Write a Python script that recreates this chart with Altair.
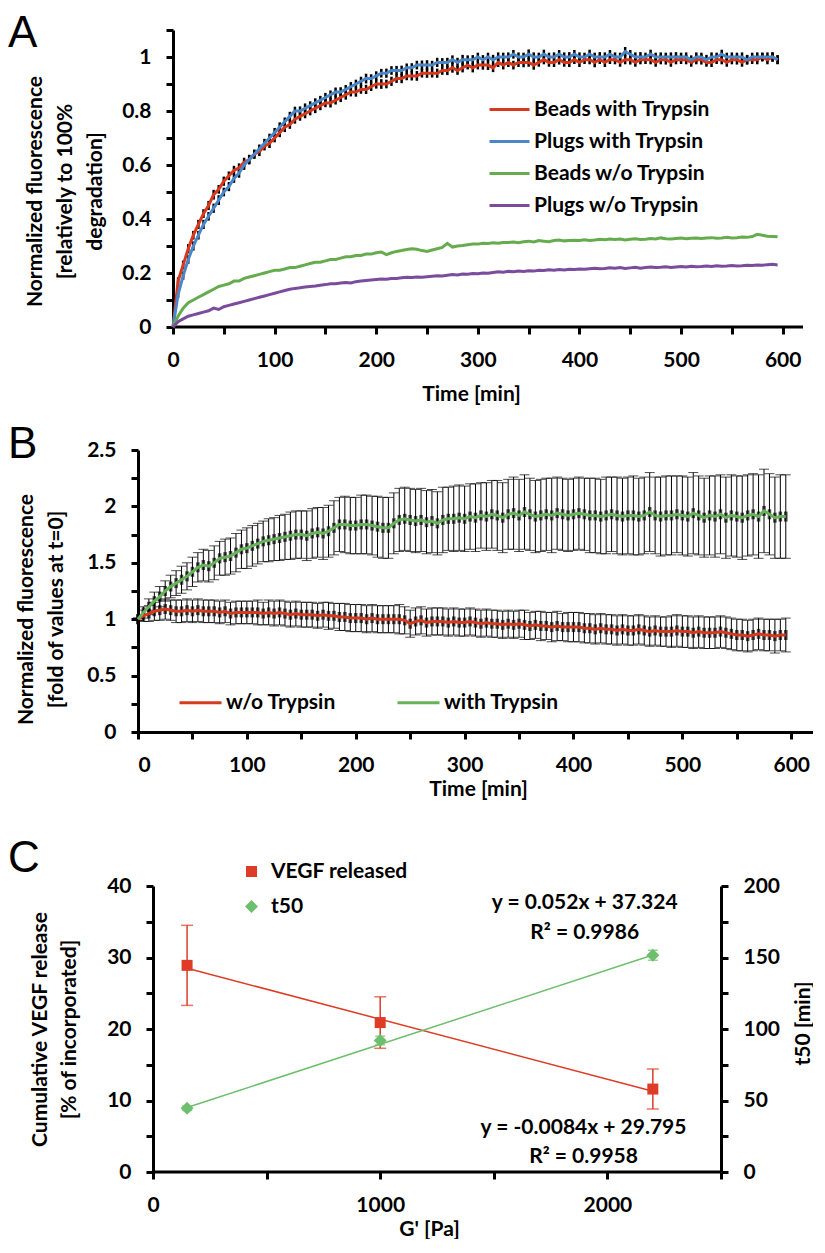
import altair as alt
import pandas as pd

# ---------------- data ----------------
TIME = list(range(0, 600, 5))

A_SERIES = ["Beads with Trypsin", "Plugs with Trypsin", "Beads w/o Trypsin", "Plugs w/o Trypsin"]
A_COLORS = ["#D8391C", "#4A87C8", "#66AC4E", "#7B4C9E"]

A_BEADS_TRYP = [
    0.00, 0.17, 0.23, 0.29, 0.34, 0.38, 0.42, 0.45, 0.49, 0.51,
    0.54, 0.56, 0.58, 0.59, 0.61, 0.62, 0.64, 0.65, 0.67, 0.68,
    0.70, 0.72, 0.74, 0.75, 0.77, 0.78, 0.79, 0.80, 0.81, 0.82,
    0.83, 0.83, 0.84, 0.85, 0.86, 0.87, 0.87, 0.88, 0.88, 0.89,
    0.90, 0.90, 0.90, 0.91, 0.92, 0.92, 0.93, 0.93, 0.93, 0.94,
    0.94, 0.94, 0.94, 0.95, 0.95, 0.96, 0.95, 0.96, 0.97, 0.96,
    0.97, 0.97, 0.97, 0.96, 0.98, 0.97, 0.98, 0.97, 0.98, 0.98,
    0.98, 0.97, 0.98, 0.99, 0.98, 0.98, 0.99, 0.98, 0.98, 0.99,
    0.98, 0.99, 0.99, 0.98, 0.99, 0.98, 0.99, 0.99, 0.98, 0.99,
    0.99, 0.98, 0.99, 0.99, 0.99, 0.98, 0.99, 0.99, 0.98, 0.99,
    0.99, 0.99, 0.98, 0.99, 0.99, 0.98, 0.98, 0.99, 0.99, 0.98,
    0.99, 0.99, 0.98, 0.99, 0.99, 0.99, 1.00, 0.99, 1.00, 0.99,
]
A_PLUGS_TRYP = [
    0.00, 0.12, 0.19, 0.25, 0.30, 0.34, 0.38, 0.41, 0.44, 0.47,
    0.50, 0.52, 0.55, 0.57, 0.60, 0.62, 0.64, 0.66, 0.68, 0.70,
    0.72, 0.74, 0.76, 0.78, 0.80, 0.80, 0.81, 0.82, 0.83, 0.84,
    0.85, 0.86, 0.87, 0.87, 0.88, 0.89, 0.90, 0.91, 0.92, 0.92,
    0.93, 0.94, 0.94, 0.95, 0.95, 0.95, 0.96, 0.96, 0.97, 0.97,
    0.97, 0.97, 0.98, 0.98, 0.98, 0.99, 0.98, 0.99, 0.99, 0.99,
    1.00, 0.99, 1.00, 0.99, 1.00, 1.00, 1.00, 1.01, 1.00, 1.00,
    1.01, 1.00, 1.00, 1.01, 1.00, 1.00, 1.01, 1.00, 1.00, 1.01,
    1.00, 1.00, 1.01, 1.00, 1.00, 1.00, 1.01, 1.00, 1.00, 1.02,
    1.01, 1.00, 1.00, 1.00, 1.01, 1.00, 1.00, 1.00, 1.00, 1.00,
    1.00, 1.00, 0.99, 1.00, 1.00, 0.99, 1.00, 1.00, 1.01, 1.00,
    1.00, 1.00, 1.00, 0.99, 1.00, 1.00, 1.00, 1.00, 1.00, 0.99,
]
A_BEADS_NO = [
    0.00, 0.04, 0.07, 0.09, 0.10, 0.11, 0.12, 0.13, 0.14, 0.15,
    0.155, 0.16, 0.17, 0.17, 0.18, 0.185, 0.19, 0.195, 0.20, 0.205,
    0.21, 0.21, 0.215, 0.22, 0.22, 0.225, 0.23, 0.235, 0.24, 0.24,
    0.245, 0.25, 0.25, 0.255, 0.26, 0.26, 0.265, 0.265, 0.27, 0.27,
    0.275, 0.278, 0.268, 0.275, 0.28, 0.283, 0.287, 0.29, 0.288, 0.283,
    0.28, 0.285, 0.29, 0.295, 0.31, 0.296, 0.30, 0.302, 0.305, 0.307,
    0.307, 0.31, 0.309, 0.312, 0.31, 0.313, 0.313, 0.315, 0.312, 0.316,
    0.318, 0.315, 0.32, 0.318, 0.316, 0.32, 0.322, 0.319, 0.32, 0.321,
    0.32, 0.323, 0.32, 0.322, 0.325, 0.323, 0.326, 0.324, 0.326, 0.322,
    0.325, 0.327, 0.324, 0.325, 0.328, 0.326, 0.33, 0.327, 0.326, 0.328,
    0.33, 0.327, 0.329, 0.33, 0.328, 0.33, 0.331, 0.329, 0.33, 0.332,
    0.33, 0.331, 0.333, 0.332, 0.335, 0.343, 0.34, 0.336, 0.335, 0.334,
]
A_PLUGS_NO = [
    0.00, 0.02, 0.03, 0.04, 0.045, 0.05, 0.055, 0.06, 0.07, 0.065,
    0.075, 0.08, 0.085, 0.09, 0.095, 0.10, 0.105, 0.11, 0.115, 0.12,
    0.125, 0.13, 0.135, 0.14, 0.143, 0.145, 0.148, 0.15, 0.152, 0.155,
    0.157, 0.16, 0.16, 0.163, 0.165, 0.163, 0.168, 0.17, 0.172, 0.174,
    0.176, 0.178, 0.177, 0.18, 0.18, 0.182, 0.184, 0.183, 0.185, 0.184,
    0.186, 0.188, 0.19, 0.189, 0.192, 0.194, 0.193, 0.196, 0.195, 0.198,
    0.197, 0.20, 0.199, 0.202, 0.205, 0.203, 0.206, 0.205, 0.207, 0.206,
    0.208, 0.207, 0.21, 0.209, 0.212, 0.21, 0.213, 0.211, 0.214, 0.213,
    0.215, 0.214, 0.216, 0.218, 0.216, 0.217, 0.219, 0.218, 0.22, 0.217,
    0.219, 0.221, 0.218, 0.22, 0.222, 0.22, 0.221, 0.223, 0.22, 0.222,
    0.224, 0.222, 0.225, 0.223, 0.224, 0.226, 0.224, 0.227, 0.225, 0.226,
    0.228, 0.226, 0.227, 0.229, 0.228, 0.23, 0.229, 0.231, 0.232, 0.23,
]
A_BEADS_TRYP_ERR = [
    0.000, 0.014, 0.016, 0.017, 0.016, 0.017, 0.016, 0.017, 0.018, 0.016,
    0.017, 0.016, 0.017, 0.016, 0.017, 0.018, 0.016, 0.017, 0.016, 0.017,
    0.016, 0.017, 0.018, 0.016, 0.017, 0.016, 0.017, 0.016, 0.018, 0.017,
    0.016, 0.017, 0.016, 0.017, 0.018, 0.016, 0.017, 0.016, 0.017, 0.016,
    0.017, 0.018, 0.016, 0.017, 0.016, 0.017, 0.016, 0.017, 0.018, 0.016,
    0.017, 0.016, 0.017, 0.016, 0.017, 0.018, 0.016, 0.017, 0.016, 0.017,
    0.016, 0.017, 0.018, 0.016, 0.017, 0.016, 0.017, 0.016, 0.017, 0.018,
    0.016, 0.017, 0.016, 0.017, 0.016, 0.017, 0.018, 0.016, 0.017, 0.016,
    0.017, 0.016, 0.017, 0.018, 0.016, 0.017, 0.016, 0.017, 0.016, 0.017,
    0.018, 0.016, 0.017, 0.016, 0.017, 0.016, 0.017, 0.018, 0.016, 0.017,
    0.016, 0.017, 0.016, 0.017, 0.018, 0.016, 0.017, 0.016, 0.017, 0.016,
    0.017, 0.018, 0.016, 0.017, 0.016, 0.017, 0.016, 0.017, 0.018, 0.016,
]
A_PLUGS_TRYP_ERR = [
    0.000, 0.013, 0.015, 0.016, 0.017, 0.016, 0.017, 0.016, 0.017, 0.018,
    0.016, 0.017, 0.016, 0.017, 0.018, 0.016, 0.017, 0.016, 0.017, 0.016,
    0.017, 0.018, 0.016, 0.017, 0.016, 0.017, 0.018, 0.016, 0.017, 0.016,
    0.017, 0.016, 0.017, 0.018, 0.016, 0.017, 0.016, 0.017, 0.018, 0.016,
    0.017, 0.016, 0.017, 0.016, 0.017, 0.018, 0.016, 0.017, 0.016, 0.017,
    0.018, 0.016, 0.017, 0.016, 0.017, 0.016, 0.017, 0.018, 0.016, 0.017,
    0.016, 0.017, 0.016, 0.018, 0.017, 0.016, 0.017, 0.016, 0.017, 0.016,
    0.018, 0.017, 0.016, 0.017, 0.016, 0.017, 0.016, 0.017, 0.018, 0.016,
    0.017, 0.016, 0.017, 0.016, 0.018, 0.017, 0.016, 0.017, 0.016, 0.017,
    0.016, 0.017, 0.018, 0.016, 0.017, 0.016, 0.017, 0.016, 0.017, 0.018,
    0.016, 0.017, 0.016, 0.017, 0.016, 0.018, 0.017, 0.016, 0.017, 0.016,
    0.017, 0.016, 0.017, 0.018, 0.016, 0.017, 0.016, 0.017, 0.016, 0.017,
]

B_SERIES = ["w/o Trypsin", "with Trypsin"]
B_COLORS = ["#D63A1E", "#66B35A"]
B_NO_TRYP = [
    1.00, 1.03, 1.05, 1.07, 1.08, 1.09, 1.08, 1.07, 1.07, 1.08,
    1.07, 1.08, 1.07, 1.07, 1.07, 1.06, 1.07, 1.05, 1.06, 1.06,
    1.06, 1.06, 1.06, 1.05, 1.06, 1.05, 1.06, 1.05, 1.04, 1.05,
    1.04, 1.04, 1.04, 1.03, 1.04, 1.03, 1.03, 1.02, 1.02, 1.01,
    1.01, 1.01, 1.00, 1.01, 1.00, 1.00, 1.00, 1.00, 1.00, 0.99,
    0.96, 0.98, 0.99, 0.97, 0.98, 0.98, 0.98, 0.97, 0.98, 0.97,
    0.97, 0.98, 0.97, 0.96, 0.97, 0.96, 0.96, 0.95, 0.96, 0.95,
    0.96, 0.95, 0.94, 0.95, 0.94, 0.94, 0.93, 0.94, 0.93, 0.93,
    0.93, 0.93, 0.92, 0.92, 0.91, 0.92, 0.91, 0.91, 0.90, 0.91,
    0.90, 0.90, 0.91, 0.90, 0.89, 0.90, 0.89, 0.89, 0.89, 0.90,
    0.89, 0.89, 0.88, 0.89, 0.88, 0.88, 0.88, 0.89, 0.88, 0.87,
    0.86, 0.86, 0.85, 0.86, 0.87, 0.86, 0.86, 0.85, 0.86, 0.86,
]
B_NO_TRYP_ERR = [
    0.01, 0.05, 0.07, 0.08, 0.09, 0.09, 0.09, 0.10, 0.10, 0.10,
    0.10, 0.10, 0.10, 0.10, 0.10, 0.10, 0.10, 0.10, 0.10, 0.10,
    0.10, 0.10, 0.11, 0.10, 0.11, 0.11, 0.11, 0.11, 0.11, 0.11,
    0.11, 0.11, 0.11, 0.11, 0.11, 0.12, 0.11, 0.12, 0.12, 0.12,
    0.12, 0.12, 0.12, 0.12, 0.12, 0.12, 0.12, 0.12, 0.13, 0.12,
    0.12, 0.12, 0.12, 0.12, 0.12, 0.12, 0.12, 0.12, 0.12, 0.12,
    0.12, 0.12, 0.12, 0.12, 0.12, 0.12, 0.12, 0.12, 0.12, 0.12,
    0.12, 0.13, 0.12, 0.12, 0.13, 0.12, 0.13, 0.13, 0.12, 0.13,
    0.13, 0.13, 0.13, 0.13, 0.13, 0.13, 0.13, 0.13, 0.13, 0.13,
    0.13, 0.13, 0.13, 0.13, 0.13, 0.13, 0.13, 0.13, 0.14, 0.14,
    0.14, 0.14, 0.14, 0.14, 0.14, 0.14, 0.14, 0.14, 0.14, 0.14,
    0.14, 0.14, 0.14, 0.14, 0.14, 0.14, 0.14, 0.15, 0.14, 0.15,
]
B_WITH_TRYP = [
    1.00, 1.06, 1.11, 1.16, 1.20, 1.25, 1.29, 1.32, 1.35, 1.38,
    1.42, 1.46, 1.48, 1.47, 1.50, 1.54, 1.55, 1.56, 1.59, 1.62,
    1.63, 1.65, 1.67, 1.69, 1.70, 1.71, 1.72, 1.73, 1.74, 1.75,
    1.75, 1.74, 1.76, 1.77, 1.76, 1.78, 1.81, 1.84, 1.84, 1.83,
    1.83, 1.84, 1.84, 1.83, 1.82, 1.81, 1.81, 1.85, 1.88, 1.89,
    1.88, 1.87, 1.88, 1.86, 1.87, 1.85, 1.88, 1.89, 1.89, 1.90,
    1.89, 1.91, 1.90, 1.92, 1.91, 1.93, 1.92, 1.90, 1.93, 1.94,
    1.92, 1.95, 1.93, 1.91, 1.92, 1.93, 1.92, 1.94, 1.93, 1.92,
    1.93, 1.94, 1.93, 1.92, 1.92, 1.91, 1.92, 1.93, 1.92, 1.91,
    1.92, 1.92, 1.91, 1.92, 1.95, 1.92, 1.91, 1.92, 1.92, 1.93,
    1.92, 1.91, 1.94, 1.92, 1.90, 1.92, 1.91, 1.93, 1.90, 1.92,
    1.91, 1.90, 1.92, 1.93, 1.91, 1.96, 1.93, 1.90, 1.91, 1.91,
]
B_WITH_TRYP_ERR = [
    0.01, 0.05, 0.07, 0.08, 0.09, 0.09, 0.10, 0.11, 0.12, 0.12,
    0.13, 0.13, 0.14, 0.14, 0.15, 0.15, 0.16, 0.16, 0.17, 0.17,
    0.18, 0.18, 0.18, 0.18, 0.19, 0.19, 0.20, 0.20, 0.21, 0.21,
    0.21, 0.22, 0.22, 0.22, 0.23, 0.23, 0.24, 0.24, 0.25, 0.25,
    0.25, 0.26, 0.26, 0.26, 0.27, 0.27, 0.27, 0.27, 0.28, 0.28,
    0.28, 0.28, 0.28, 0.28, 0.28, 0.28, 0.29, 0.28, 0.29, 0.29,
    0.29, 0.29, 0.30, 0.29, 0.30, 0.30, 0.31, 0.31, 0.31, 0.32,
    0.32, 0.33, 0.32, 0.32, 0.32, 0.32, 0.33, 0.32, 0.32, 0.32,
    0.32, 0.32, 0.32, 0.33, 0.33, 0.33, 0.34, 0.33, 0.34, 0.34,
    0.34, 0.35, 0.34, 0.34, 0.35, 0.34, 0.35, 0.35, 0.35, 0.34,
    0.35, 0.35, 0.36, 0.35, 0.35, 0.35, 0.36, 0.35, 0.36, 0.36,
    0.36, 0.37, 0.36, 0.36, 0.37, 0.37, 0.36, 0.36, 0.37, 0.37,
]

C_SERIES = ["VEGF released", "t50"]
C_COLORS = ["#DE3C26", "#6DBF6D"]
C_X = [150, 1000, 2200]
C_VEGF = [28.9, 20.9, 11.6]
C_VEGF_ERR = [5.6, 3.6, 2.8]
C_T50 = [44.5, 92.0, 151.5]
C_T50_ERR = [1.5, 3.0, 3.5]
C_TREND_X = [150, 2200]
C_VEGF_TREND = [28.5, 11.3]
C_T50_TREND = [45.1, 151.7]
C_EQ_TEXT = ["y = 0.052x + 37.324", "R\u00b2 = 0.9986", "y = -0.0084x + 29.795", "R\u00b2 = 0.9958"]
C_EQ_X = [1900, 1900, 1895, 1895]
C_EQ_Y = [37.6, 33.4, 6.15, 2.1]

A_XTICKS = [0, 50, 100, 150, 200, 250, 300, 350, 400, 450, 500, 550, 600]
A_YTICKS = [0, 0.1, 0.2, 0.3, 0.4, 0.5, 0.6, 0.7, 0.8, 0.9, 1.0, 1.1]
B_YTICKS = [0, 0.25, 0.5, 0.75, 1.0, 1.25, 1.5, 1.75, 2.0, 2.25, 2.5]
C_XTICKS = [0, 500, 1000, 1500, 2000, 2500]
C_YTICKS_L = [0, 5, 10, 15, 20, 25, 30, 35, 40]
C_YTICKS_R = [0, 25, 50, 75, 100, 125, 150, 175, 200]
A_XMAX, A_YMAX = 620, 1.1
B_XMAX, B_YMAX = 620, 2.5
C_XMAX, C_YMAX_L, C_YMAX_R = 2500, 40, 200

# ---------------- layout constants (pixels) ----------------
FONT = "Lato"
LETTER_FONT = "Liberation Sans"
# all three plot groups share one left edge; A and C have their y axis pushed inward
A_SHIFT, C_SHIFT = 35, 15
A_W0, A_H = 630, 297
B_W, B_H = 675, 282
C_W0, C_H = 568, 286
A_XMIN = -A_SHIFT * A_XMAX / A_W0
C_XMIN = -C_SHIFT * C_XMAX / C_W0


def long_df(names, vals, errs, key):
    rows = []
    for name, v_list, e_list in zip(names, vals, errs):
        for t, v, e in zip(TIME, v_list, e_list):
            rows.append({"time": t, key: name, "value": v, "lo": v - e, "hi": v + e})
    return pd.DataFrame(rows)


dfA_lines = pd.DataFrame([
    {"time": t, "seriesA": name, "value": v}
    for name, vals in zip(A_SERIES, [A_BEADS_TRYP, A_PLUGS_TRYP, A_BEADS_NO, A_PLUGS_NO])
    for t, v in zip(TIME, vals)
])
dfA_err = long_df(A_SERIES[:2], [A_BEADS_TRYP, A_PLUGS_TRYP], [A_BEADS_TRYP_ERR, A_PLUGS_TRYP_ERR], "seriesA")
dfA_axis = pd.DataFrame({"x0": [0], "x1": [A_XMAX], "y": [0]})
dfB = long_df(B_SERIES, [B_NO_TRYP, B_WITH_TRYP], [B_NO_TRYP_ERR, B_WITH_TRYP_ERR], "seriesB")

dfC_pts = pd.DataFrame(
    [{"g": x, "seriesC": C_SERIES[0], "v": v, "lo": v - e, "hi": v + e} for x, v, e in zip(C_X, C_VEGF, C_VEGF_ERR)]
)
dfC_t50 = pd.DataFrame(
    [{"g": x, "seriesC": C_SERIES[1], "v": v, "lo": v - e, "hi": v + e} for x, v, e in zip(C_X, C_T50, C_T50_ERR)]
)
dfC_vtrend = pd.DataFrame({"g": C_TREND_X, "v": C_VEGF_TREND})
dfC_ttrend = pd.DataFrame({"g": C_TREND_X, "v": C_T50_TREND})
dfC_text = pd.DataFrame({"g": C_EQ_X, "v": C_EQ_Y, "txt": C_EQ_TEXT})
dfC_axis = pd.DataFrame({"x0": [0], "x1": [C_XMAX], "y": [0]})


def letter(t, dy):
    return alt.TitleParams(
        text=t, anchor="start", frame="group", orient="top", font=LETTER_FONT,
        fontSize=44, fontWeight="normal", color="black", dx=-130, dy=dy, offset=0,
        baseline="alphabetic",
    )


# ---------------- panel A ----------------
xA_scale = alt.Scale(domain=[A_XMIN, A_XMAX], nice=False, zero=False)
xA_axis = alt.Axis(values=A_XTICKS, labelExpr="datum.value % 100 == 0 ? datum.label : ''", domain=False,
                   title="Time [min]", titleX=333, titleY=67, titleBaseline="middle")
yA_axis = alt.Axis(values=A_YTICKS, offset=-A_SHIFT,
                   labelExpr="round(datum.value*10) % 2 == 0 ? format(datum.value, '~g') : ''",
                   title=["Normalized fluorescence", "[relatively to 100%", "degradation]"],
                   titleAngle=270, titleX=-138, titleY=161, titleBaseline="middle", titleLineHeight=30)
yA_scale = alt.Scale(domain=[0, A_YMAX], nice=False)

axisLineA = alt.Chart(dfA_axis).mark_rule(color="black", strokeWidth=3).encode(
    x=alt.X("x0:Q", scale=xA_scale, axis=xA_axis), x2="x1:Q",
    y=alt.Y("y:Q", scale=yA_scale, axis=yA_axis))
errA = alt.Chart(dfA_err).mark_rule(color="black", strokeWidth=2.5).encode(
    x=alt.X("time:Q", scale=xA_scale, axis=xA_axis),
    y=alt.Y("lo:Q", scale=yA_scale, axis=yA_axis), y2="hi:Q", detail="seriesA:N")
linesA = alt.Chart(dfA_lines).mark_line(strokeWidth=3).encode(
    x=alt.X("time:Q", scale=xA_scale, axis=xA_axis),
    y=alt.Y("value:Q", scale=yA_scale, axis=yA_axis),
    color=alt.Color("seriesA:N", scale=alt.Scale(domain=A_SERIES, range=A_COLORS), sort=A_SERIES,
                    legend=alt.Legend(title=None, orient="none", legendX=350, legendY=58,
                                      direction="vertical", columns=1,
                                      symbolType="stroke", symbolSize=1600, symbolStrokeWidth=3,
                                      labelOffset=3, rowPadding=-8, padding=0)))
chartA = alt.layer(axisLineA, errA, linesA).properties(
    width=A_W0 + A_SHIFT, height=A_H, title=letter("A", 62))

# ---------------- panel B ----------------
xB = alt.X("time:Q", scale=alt.Scale(domain=[0, B_XMAX], nice=False),
           axis=alt.Axis(values=A_XTICKS, labelExpr="datum.value % 100 == 0 ? datum.label : ''",
                         title="Time [min]", titleX=340, titleY=57, titleBaseline="middle"))
yB_scale = alt.Scale(domain=[0, B_YMAX], nice=False)
yB_axis = alt.Axis(values=B_YTICKS,
                   labelExpr="(datum.value*2) % 1 == 0 ? format(datum.value, '~g') : ''",
                   title=["Normalized fluorescence", "[fold of values at t=0]"],
                   titleAngle=270, titleX=-112, titleY=159, titleBaseline="middle", titleLineHeight=30)
baseB = alt.Chart(dfB)
errB = baseB.mark_rule(color="black", strokeWidth=1).encode(
    x=xB, y=alt.Y("lo:Q", scale=yB_scale, axis=yB_axis), y2="hi:Q")
capLoB = baseB.mark_tick(orient="horizontal", size=10, thickness=1, color="black").encode(
    x=xB, y=alt.Y("lo:Q", scale=yB_scale, axis=yB_axis))
capHiB = baseB.mark_tick(orient="horizontal", size=10, thickness=1, color="black").encode(
    x=xB, y=alt.Y("hi:Q", scale=yB_scale, axis=yB_axis))
blockB = baseB.mark_tick(orient="vertical", size=10, thickness=3.5, color="black").encode(
    x=xB, y=alt.Y("value:Q", scale=yB_scale, axis=yB_axis))
linesB = baseB.mark_line(strokeWidth=3).encode(
    x=xB, y=alt.Y("value:Q", scale=yB_scale, axis=yB_axis),
    color=alt.Color("seriesB:N", scale=alt.Scale(domain=B_SERIES, range=B_COLORS), sort=B_SERIES,
                    legend=alt.Legend(title=None, orient="none", legendX=40, legendY=230,
                                      direction="horizontal", columns=2, columnPadding=55,
                                      symbolType="stroke", symbolSize=1764, symbolStrokeWidth=3,
                                      labelOffset=3, padding=0)))
chartB = alt.layer(errB, capLoB, capHiB, blockB, linesB).properties(
    width=B_W, height=B_H, title=letter("B", 63))

# ---------------- panel C ----------------
xC_scale = alt.Scale(domain=[C_XMIN, C_XMAX], nice=False, zero=False)
xC_axis = alt.Axis(values=C_XTICKS, labelExpr="datum.value % 1000 == 0 ? format(datum.value, 'd') : ''",
                   domain=False, title="G' [Pa]", titleX=291, titleY=57, titleBaseline="middle")
xC = alt.X("g:Q", scale=xC_scale, axis=xC_axis)
yCL_scale = alt.Scale(domain=[0, C_YMAX_L], nice=False)
yCL_axis = alt.Axis(values=C_YTICKS_L, orient="left", offset=-C_SHIFT,
                    labelExpr="datum.value % 10 == 0 ? datum.label : ''",
                    title=["Cumulative VEGF release", "[% of incorporated]"],
                    titleAngle=270, titleX=-113, titleY=143, titleBaseline="middle", titleLineHeight=29)
yCR_scale = alt.Scale(domain=[0, C_YMAX_R], nice=False)
yCR_axis = alt.Axis(values=C_YTICKS_R, orient="right",
                    labelExpr="datum.value % 50 == 0 ? datum.label : ''",
                    title="t50 [min]", titleAngle=270, titleX=82, titleY=137, titleBaseline="middle")

c_color = alt.Color("seriesC:N", scale=alt.Scale(domain=C_SERIES, range=C_COLORS),
                    legend=alt.Legend(title=None, orient="none", legendX=103, legendY=-25,
                                      direction="vertical", columns=1,
                                      rowPadding=13, labelOffset=9, padding=0, symbolStrokeWidth=0))
c_shape = alt.Shape("seriesC:N", scale=alt.Scale(domain=C_SERIES, range=["square", "diamond"]))
c_size = alt.Size("seriesC:N", scale=alt.Scale(domain=C_SERIES, range=[121, 169]))

axisLineC = alt.Chart(dfC_axis).mark_rule(color="black", strokeWidth=3).encode(
    x=alt.X("x0:Q", scale=xC_scale, axis=xC_axis), x2="x1:Q",
    y=alt.Y("y:Q", scale=yCL_scale, axis=yCL_axis))
vTrend = alt.Chart(dfC_vtrend).mark_line(color=C_COLORS[0], strokeWidth=1.5).encode(
    x=xC, y=alt.Y("v:Q", scale=yCL_scale, axis=yCL_axis))
vErr = alt.Chart(dfC_pts).mark_rule(color=C_COLORS[0], strokeWidth=1.5).encode(
    x=xC, y=alt.Y("lo:Q", scale=yCL_scale, axis=yCL_axis), y2="hi:Q")
vCapLo = alt.Chart(dfC_pts).mark_tick(orient="horizontal", size=12, thickness=1.5, color=C_COLORS[0]).encode(
    x=xC, y=alt.Y("lo:Q", scale=yCL_scale, axis=yCL_axis))
vCapHi = alt.Chart(dfC_pts).mark_tick(orient="horizontal", size=12, thickness=1.5, color=C_COLORS[0]).encode(
    x=xC, y=alt.Y("hi:Q", scale=yCL_scale, axis=yCL_axis))
vPts = alt.Chart(dfC_pts).mark_point(filled=True, opacity=1).encode(
    x=xC, y=alt.Y("v:Q", scale=yCL_scale, axis=yCL_axis), color=c_color, shape=c_shape, size=c_size)
eqText = alt.Chart(dfC_text).mark_text(font=FONT, fontSize=21, fontWeight="bold", color="black",
                                       align="center", baseline="middle").encode(
    x=xC, y=alt.Y("v:Q", scale=yCL_scale, axis=yCL_axis), text="txt:N")
leftC = alt.layer(axisLineC, vTrend, vErr, vCapLo, vCapHi, vPts, eqText)

tTrend = alt.Chart(dfC_ttrend).mark_line(color=C_COLORS[1], strokeWidth=1.5).encode(
    x=xC, y=alt.Y("v:Q", scale=yCR_scale, axis=yCR_axis))
tErr = alt.Chart(dfC_t50).mark_rule(color=C_COLORS[1], strokeWidth=1.5).encode(
    x=xC, y=alt.Y("lo:Q", scale=yCR_scale, axis=yCR_axis), y2="hi:Q")
tCapLo = alt.Chart(dfC_t50).mark_tick(orient="horizontal", size=10, thickness=1.5, color=C_COLORS[1]).encode(
    x=xC, y=alt.Y("lo:Q", scale=yCR_scale, axis=yCR_axis))
tCapHi = alt.Chart(dfC_t50).mark_tick(orient="horizontal", size=10, thickness=1.5, color=C_COLORS[1]).encode(
    x=xC, y=alt.Y("hi:Q", scale=yCR_scale, axis=yCR_axis))
tPts = alt.Chart(dfC_t50).mark_point(filled=True, opacity=1).encode(
    x=xC, y=alt.Y("v:Q", scale=yCR_scale, axis=yCR_axis), color=c_color, shape=c_shape, size=c_size)
rightC = alt.layer(tTrend, tErr, tCapLo, tCapHi, tPts)

chartC = alt.layer(leftC, rightC).resolve_scale(y="independent").properties(
    width=C_W0 + C_SHIFT, height=C_H, title=letter("C", 55))

# ---------------- assemble ----------------
RES = dict(color="independent", shape="independent", size="independent", x="independent", y="independent")
LEG = dict(color="independent", shape="independent", size="independent")

inner = alt.concat(chartB, chartC, columns=1, spacing=38, align="none").resolve_scale(**RES).resolve_legend(**LEG)

chart = alt.concat(chartA, inner, columns=1, spacing=19, align="none").resolve_scale(**RES).resolve_legend(
    **LEG
).properties(
    padding={"left": 0, "top": 3, "right": 0, "bottom": 0}
).configure_view(stroke=None).configure_axis(
    grid=False, domainColor="black", domainWidth=3, tickColor="black", tickWidth=3, tickSize=7,
    labelFont=FONT, labelFontSize=21, labelFontWeight="bold", labelColor="black", labelPadding=15,
    titleFont=FONT, titleFontSize=21, titleFontWeight="bold", titleColor="black",
).configure_legend(
    labelFont=FONT, labelFontSize=21, labelFontWeight="bold", labelColor="black", labelLimit=400,
)

chart.save("out.html", embed_options={"renderer": "svg", "actions": False})
